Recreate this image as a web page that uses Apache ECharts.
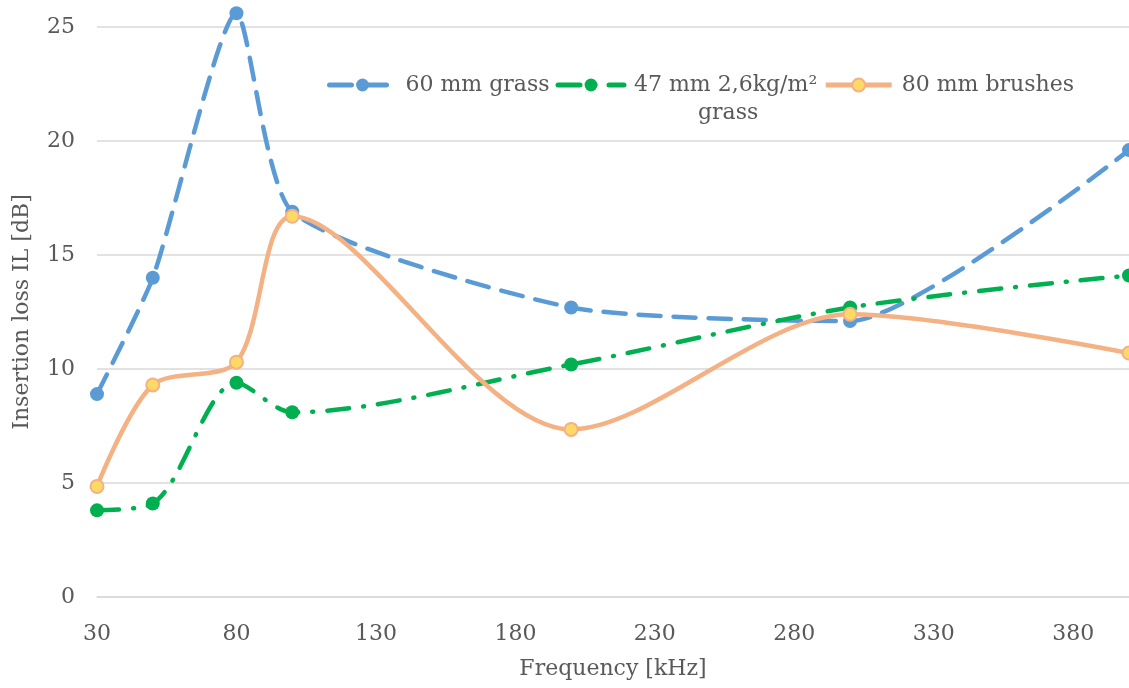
<!DOCTYPE html>
<html><head><meta charset="utf-8">
<script src="https://cdn.jsdelivr.net/npm/echarts@6/dist/echarts.min.js"></script>
<style>html,body{margin:0;padding:0;background:#fff}#c{width:1129px;height:688px}</style>
</head><body><div id="c"></div>
<script>
const frequency = [30, 50, 80, 100, 200, 300, 400];
const grass60 = [8.9, 14.0, 25.6, 16.9, 12.7, 12.1, 19.6];
const grass47 = [3.8, 4.1, 9.4, 8.1, 10.2, 12.7, 14.1];
const brushes80 = [4.85, 9.3, 10.3, 16.7, 7.35, 12.4, 10.7];
const yTicks = [0, 5, 10, 15, 20, 25];
const seriesNames = ['60 mm grass', '47 mm 2,6kg/m² grass', '80 mm brushes'];

const FONT = 'DejaVu Serif';
const TXT = '#595959';
const FS = 22;
function pts(ys){ return frequency.map((x,i)=>[x, ys[i]]); }

const chart = echarts.init(document.getElementById('c'));
chart.setOption({
  animation: false,
  textStyle: {fontFamily: FONT, color: TXT},
  grid: {left: 97, right: -4, top: 27, bottom: 91, containLabel: false},
  legend: {
    left: 322, top: 38, itemWidth: 66, itemHeight: 16, itemGap: 6,
    textStyle: {fontFamily: FONT, fontSize: FS, color: TXT, padding: [0,0,0,5],
      rich: {g: {fontFamily: FONT, fontSize: FS, color: TXT, lineHeight: 28, padding: [0,0,0,64]}}},
    formatter: function(name){
      if (name === seriesNames[1]) return '47 mm 2,6kg/m²\n{g|grass}';
      return name;
    },
    data: [
      {name: seriesNames[0], lineStyle: {width: 5}},
      {name: seriesNames[1], lineStyle: {width: 5}, textStyle: {lineHeight: 28, padding: [28,0,0,5]}},
      {name: seriesNames[2], lineStyle: {width: 5}}
    ]
  },
  xAxis: {
    type: 'value', min: 30, max: 400, interval: 50,
    name: 'Frequency [kHz]', nameLocation: 'middle', nameGap: 61,
    nameTextStyle: {fontFamily: FONT, fontSize: FS, color: TXT},
    axisLine: {show: true, lineStyle: {color: '#D9D9D9', width: 1.5}},
    axisTick: {show: false},
    splitLine: {show: false},
    axisLabel: {fontFamily: FONT, fontSize: FS, color: TXT, margin: 26, showMaxLabel: false}
  },
  yAxis: {
    type: 'value', min: yTicks[0], max: yTicks[yTicks.length-1], interval: 5,
    name: 'Insertion loss IL [dB]', nameLocation: 'middle', nameGap: 64,
    nameTextStyle: {fontFamily: FONT, fontSize: FS, color: TXT},
    axisLine: {show: false}, axisTick: {show: false},
    splitLine: {lineStyle: {color: '#D9D9D9', width: 1.5}},
    axisLabel: {fontFamily: FONT, fontSize: FS, color: TXT, margin: 22}
  },
  series: [
    {
      name: seriesNames[0], type: 'line', data: pts(grass60), smooth: 0.2, clip: false,
      symbol: 'circle', symbolSize: 14,
      itemStyle: {color: '#5B9BD5'},
      lineStyle: {color: '#5B9BD5', width: 4.5, type: [22, 13], cap: 'round'}
    },
    {
      name: seriesNames[1], type: 'line', data: pts(grass47), smooth: 0.3, clip: false,
      symbol: 'circle', symbolSize: 14,
      itemStyle: {color: '#00B050'},
      lineStyle: {color: '#00B050', width: 4.5, type: [22, 14, 1, 14], cap: 'round'}
    },
    {
      name: seriesNames[2], type: 'line', data: pts(brushes80), smooth: 0.3, clip: false,
      symbol: 'circle', symbolSize: 13,
      itemStyle: {color: '#FFD966', borderColor: '#F4B183', borderWidth: 2},
      lineStyle: {color: '#F4B183', width: 4.5}
    }
  ]
});
</script></body></html>
